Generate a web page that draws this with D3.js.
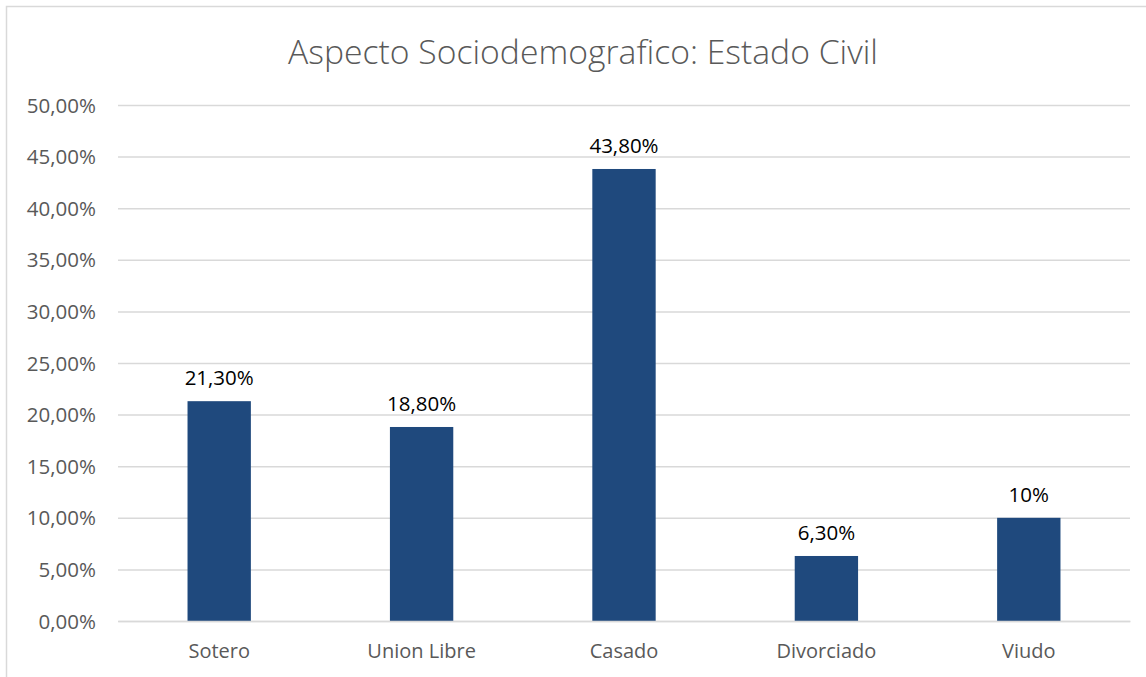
<!DOCTYPE html>
<html>
<head>
<meta charset="utf-8">
<script src="https://cdn.jsdelivr.net/npm/d3@7"></script>
<style>
  html, body { margin: 0; padding: 0; background: #fff; }
  svg { display: block; font-family: "Open Sans", "Noto Sans", sans-serif; }
</style>
</head>
<body>
<svg id="chart" width="1146" height="677"></svg>
<script>
const categories = ["Sotero", "Union Libre", "Casado", "Divorciado", "Viudo"];
const values = [0.213, 0.188, 0.438, 0.063, 0.10];
const valueLabels = ["21,30%", "18,80%", "43,80%", "6,30%", "10%"];
const yTicks = [0, 0.05, 0.10, 0.15, 0.20, 0.25, 0.30, 0.35, 0.40, 0.45, 0.50];
const title = "Aspecto Sociodemografico: Estado Civil";

const svg = d3.select("#chart");
const W = 1146, H = 677;
const plot = { left: 118, right: 1130, top: 105, bottom: 621 };

// Outer chart frame
svg.append("rect")
  .attr("x", 6.5).attr("y", 6.5)
  .attr("width", W + 10).attr("height", H + 10)
  .attr("fill", "#fff").attr("stroke", "#d9d9d9").attr("stroke-width", 1.5);

// Title
svg.append("text")
  .attr("x", 583).attr("y", 64)
  .attr("text-anchor", "middle")
  .attr("font-size", 33.7).attr("font-weight", 300)
  .attr("fill", "#595959")
  .text(title);

const x = d3.scaleBand()
  .domain(categories)
  .range([plot.left, plot.right])
  .paddingInner(0.687)
  .paddingOuter(0.3435);

const y = d3.scaleLinear()
  .domain([0, 0.5])
  .range([plot.bottom, plot.top]);

const fmtPct = v => d3.format(".2f")(v * 100).replace(".", ",") + "%";

// Y axis: gridlines and labels
const yAxis = d3.axisLeft(y)
  .tickValues(yTicks)
  .tickSize(-(plot.right - plot.left))
  .tickPadding(22)
  .tickFormat(fmtPct);

const gy = svg.append("g")
  .attr("transform", `translate(${plot.left},0)`)
  .call(yAxis);
gy.select(".domain").remove();
gy.selectAll(".tick line").attr("stroke", "#d9d9d9").attr("stroke-width", 1.5);
gy.selectAll(".tick text")
  .attr("fill", "#595959").attr("font-size", 20.5)
  .attr("font-family", "'Open Sans', sans-serif")
  .attr("dy", "0.35em");

// Bars
svg.append("g").selectAll("rect")
  .data(categories)
  .join("rect")
  .attr("x", d => x(d))
  .attr("width", x.bandwidth())
  .attr("y", (d, i) => y(values[i]))
  .attr("height", (d, i) => y(0) - y(values[i]))
  .attr("fill", "#1f497d");

// Value labels
svg.append("g").selectAll("text")
  .data(categories)
  .join("text")
  .attr("x", d => x(d) + x.bandwidth() / 2)
  .attr("y", (d, i) => y(values[i]) - 16)
  .attr("text-anchor", "middle")
  .attr("font-size", 20.5)
  .attr("fill", "#000")
  .text((d, i) => valueLabels[i]);

// X axis: category labels
const xAxis = d3.axisBottom(x).tickSize(0).tickPadding(23);
const gx = svg.append("g")
  .attr("transform", `translate(0,${plot.bottom})`)
  .call(xAxis);
gx.select(".domain").attr("stroke", "#d9d9d9").attr("stroke-width", 1.5);
gx.selectAll(".tick text")
  .attr("fill", "#595959").attr("font-size", 20)
  .attr("font-family", "'Open Sans', sans-serif");
</script>
</body>
</html>
